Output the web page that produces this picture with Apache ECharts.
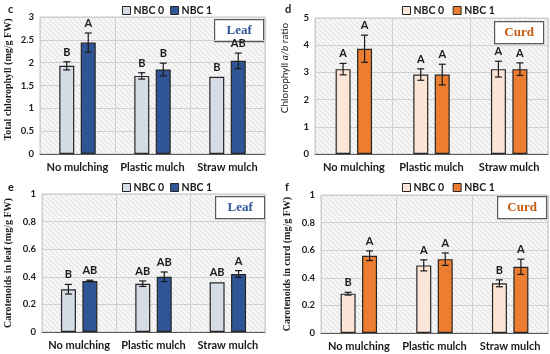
<!DOCTYPE html>
<html><head><meta charset="utf-8">
<script src="https://cdn.jsdelivr.net/npm/echarts@6/dist/echarts.min.js"></script>
<style>html,body{margin:0;padding:0;background:#fff}#c{width:550px;height:354px}</style>
</head><body><div id="c"></div>
<script>
const categories = ['No mulching', 'Plastic mulch', 'Straw mulch'];
// panel c: total chlorophyll (leaf)
const chlNBC0 = [1.93, 1.71, 1.69];
const chlNBC0Err = [0.09, 0.07, 0];
const chlNBC1 = [2.44, 1.85, 2.04];
const chlNBC1Err = [0.21, 0.14, 0.17];
const chlNBC0Let = ['B', 'B', 'B'];
const chlNBC1Let = ['A', 'B', 'AB'];
// panel d: chlorophyll a/b ratio (curd)
const ratioNBC0 = [3.12, 2.92, 3.12];
const ratioNBC0Err = [0.21, 0.21, 0.29];
const ratioNBC1 = [3.87, 2.92, 3.12];
const ratioNBC1Err = [0.5, 0.38, 0.23];
const ratioNBC0Let = ['A', 'A', 'A'];
const ratioNBC1Let = ['A', 'A', 'A'];
// panel e: carotenoids in leaf
const carLeafNBC0 = [0.31, 0.35, 0.36];
const carLeafNBC0Err = [0.035, 0.02, 0];
const carLeafNBC1 = [0.37, 0.40, 0.42];
const carLeafNBC1Err = [0.005, 0.035, 0.025];
const carLeafNBC0Let = ['B', 'AB', 'AB'];
const carLeafNBC1Let = ['AB', 'AB', 'A'];
// panel f: carotenoids in curd
const carCurdNBC0 = [0.285, 0.49, 0.36];
const carCurdNBC0Err = [0.01, 0.04, 0.025];
const carCurdNBC1 = [0.56, 0.535, 0.48];
const carCurdNBC1Err = [0.035, 0.045, 0.055];
const carCurdNBC0Let = ['B', 'A', 'B'];
const carCurdNBC1Let = ['A', 'A', 'A'];

const leaf0 = '#d6dce5', leaf1 = '#2f5597', curd0 = '#fbe5d6', curd1 = '#ed7d31';
const SANS = 'Lato', SERIF = '"Liberation Serif"';

// hatch pattern
const pc = document.createElement('canvas');
pc.width = 5; pc.height = 5;
const pctx = pc.getContext('2d');
pctx.fillStyle = '#f6f6f6'; pctx.fillRect(0, 0, 5, 5);
pctx.strokeStyle = '#d8d8d8'; pctx.lineWidth = 0.8;
pctx.beginPath(); pctx.moveTo(0, 0); pctx.lineTo(5, 5); pctx.moveTo(-1, 4); pctx.lineTo(1, 6); pctx.moveTo(4, -1); pctx.lineTo(6, 1); pctx.stroke();
const hatch = { image: pc, repeat: 'repeat' };

const grids = [
  { left: 40, top: 17, width: 225, height: 137 },
  { left: 315, top: 18, width: 233, height: 136 },
  { left: 42, top: 194, width: 223, height: 138 },
  { left: 321, top: 195, width: 227, height: 138 }
];
const panels = [
  { max: 3, interval: 0.5, name: 'Total chlorophyll (mg/g FW)', nameFont: SERIF, nameW: 'bold', nameSize: 10, nameGap: 27, pad: [0, 0, 0, 12], s0: chlNBC0, e0: chlNBC0Err, l0: chlNBC0Let, s1: chlNBC1, e1: chlNBC1Err, l1: chlNBC1Let, c0: leaf0, c1: leaf1, n0: 'NBC 0', n1: 'NBC 1' },
  { max: 5, interval: 1, name: 'Chlorophyll {i|a/b} ratio', nameFont: SANS, nameW: 'normal', nameSize: 10, nameGap: 25, pad: [0, 0, 0, 36], s0: ratioNBC0, e0: ratioNBC0Err, l0: ratioNBC0Let, s1: ratioNBC1, e1: ratioNBC1Err, l1: ratioNBC1Let, c0: curd0, c1: curd1, n0: 'NBC 0 ', n1: 'NBC 1 ' },
  { max: 1, interval: 0.2, name: 'Carotenoids in leaf (mg/g FW)', nameFont: SERIF, nameW: 'bold', nameSize: 10, nameGap: 29, pad: [0, 0, 0, 0], s0: carLeafNBC0, e0: carLeafNBC0Err, l0: carLeafNBC0Let, s1: carLeafNBC1, e1: carLeafNBC1Err, l1: carLeafNBC1Let, c0: leaf0, c1: leaf1, n0: 'NBC 0', n1: 'NBC 1' },
  { max: 1, interval: 0.2, name: 'Carotenoids in curd (mg/g FW)', nameFont: SERIF, nameW: 'bold', nameSize: 10, nameGap: 29, pad: [0, 0, 0, 0], s0: carCurdNBC0, e0: carCurdNBC0Err, l0: carCurdNBC0Let, s1: carCurdNBC1, e1: carCurdNBC1Err, l1: carCurdNBC1Let, c0: curd0, c1: curd1, n0: 'NBC 0 ', n1: 'NBC 1 ' }
];

function boxLabel(x, y, t, col) {
  return {
    type: 'group', left: x, top: y, children: [
      { type: 'rect', shape: { x: 0, y: 0, width: 49, height: 22 }, style: { fill: '#fff', stroke: '#595959', lineWidth: 1.2 } },
      { type: 'text', x: 24.5, y: 11, style: { text: t, font: 'bold 13px "Liberation Serif"', fill: col, align: 'center', verticalAlign: 'middle' } }
    ]
  };
}

const option = {
  animation: false,
  backgroundColor: '#fff',
  grid: grids.map(g => Object.assign({ show: true, backgroundColor: hatch, borderColor: '#c8c8c8', borderWidth: 1 }, g)),
  xAxis: grids.map((g, i) => ({
    gridIndex: i, type: 'category', data: categories,
    axisLine: { lineStyle: { color: '#595959', width: 1 } },
    axisTick: { show: false },
    splitLine: { show: true, interval: 0, lineStyle: { color: '#d0d0d0' } },
    axisLabel: { color: '#1a1a1a', fontFamily: SANS, fontWeight: 'bold', fontSize: 11, margin: 8, interval: 0 },
    boundaryGap: true
  })),
  yAxis: panels.map((p, i) => ({
    gridIndex: i, type: 'value', min: 0, max: p.max, interval: p.interval,
    name: p.name, nameLocation: 'middle', nameGap: p.nameGap,
    nameTextStyle: { fontFamily: p.nameFont, fontWeight: p.nameW, fontSize: p.nameSize, color: '#1a1a1a', padding: p.pad, rich: { i: { fontFamily: SANS, fontStyle: 'italic', fontSize: p.nameSize, color: '#1a1a1a' } } },
    axisLine: { show: false }, axisTick: { show: false },
    splitLine: { lineStyle: { color: '#d0d0d0' } },
    axisLabel: { color: '#1a1a1a', fontFamily: SANS, fontWeight: 'bold', fontSize: 9.5, margin: 6 }
  })),
  legend: panels.map((p, i) => ({
    data: [p.n0, p.n1],
    top: i < 2 ? 0 : 177,
    left: i % 2 === 0 ? 117 : 397,
    itemWidth: 8, itemHeight: 8, itemGap: 6,
    icon: 'rect',
    textStyle: { fontFamily: SANS, fontWeight: 'bold', fontSize: 10.5, color: '#1a1a1a', padding: [0, 0, 0, -2] },
    itemStyle: { borderColor: '#262626', borderWidth: 1 },
    selectedMode: false
  })),
  graphic: [
    { type: 'text', left: 8, top: 4, style: { text: 'c', font: 'bold 11px Lato', fill: '#1a1a1a' } },
    { type: 'text', left: 285, top: 4, style: { text: 'd', font: 'bold 11px Lato', fill: '#1a1a1a' } },
    { type: 'text', left: 8, top: 182, style: { text: 'e', font: 'bold 11px Lato', fill: '#1a1a1a' } },
    { type: 'text', left: 285, top: 182, style: { text: 'f', font: 'bold 11px Lato', fill: '#1a1a1a' } },
    boxLabel(214, 19, 'Leaf', '#2f5597'),
    boxLabel(494, 21, 'Curd', '#c55a11'),
    boxLabel(215, 196, 'Leaf', '#2f5597'),
    boxLabel(497, 196, 'Curd', '#c55a11')
  ],
  series: []
};

function errSeries(i, vals, errs, lets, off) {
  return {
    type: 'custom', xAxisIndex: i, yAxisIndex: i, z: 5,
    data: vals.map((v, k) => [k, v, errs[k]]),
    renderItem: function (params, api) {
      const k = api.value(0), v = api.value(1), e = api.value(2);
      const top = api.coord([k, v + e]);
      const bot = api.coord([k, v - e]);
      const x = top[0] + off;
      const ch = [];
      if (e > 0) {
        ch.push({ type: 'line', shape: { x1: x, y1: top[1], x2: x, y2: bot[1] }, style: { stroke: '#1a1a1a', lineWidth: 1.2 } });
        ch.push({ type: 'line', shape: { x1: x - 3.5, y1: top[1], x2: x + 3.5, y2: top[1] }, style: { stroke: '#1a1a1a', lineWidth: 1.2 } });
        ch.push({ type: 'line', shape: { x1: x - 3.5, y1: bot[1], x2: x + 3.5, y2: bot[1] }, style: { stroke: '#1a1a1a', lineWidth: 1.2 } });
      }
      ch.push({ type: 'text', x: x, y: top[1] - 4, style: { text: lets[k], font: 'bold 11px Lato', fill: '#1a1a1a', align: 'center', verticalAlign: 'bottom' } });
      return { type: 'group', children: ch };
    }
  };
}

panels.forEach((p, i) => {
  option.series.push({ type: 'bar', name: p.n0, xAxisIndex: i, yAxisIndex: i, data: p.s0, barWidth: 15, barGap: '43%', itemStyle: { color: p.c0, borderColor: '#262626', borderWidth: 1.2 } });
  option.series.push({ type: 'bar', name: p.n1, xAxisIndex: i, yAxisIndex: i, data: p.s1, barWidth: 15, barGap: '43%', itemStyle: { color: p.c1, borderColor: '#262626', borderWidth: 1.2 } });
  option.series.push(errSeries(i, p.s0, p.e0, p.l0, -10.75));
  option.series.push(errSeries(i, p.s1, p.e1, p.l1, 10.75));
});

const chart = echarts.init(document.getElementById('c'), null, { renderer: 'canvas' });
chart.setOption(option);
</script></body></html>
